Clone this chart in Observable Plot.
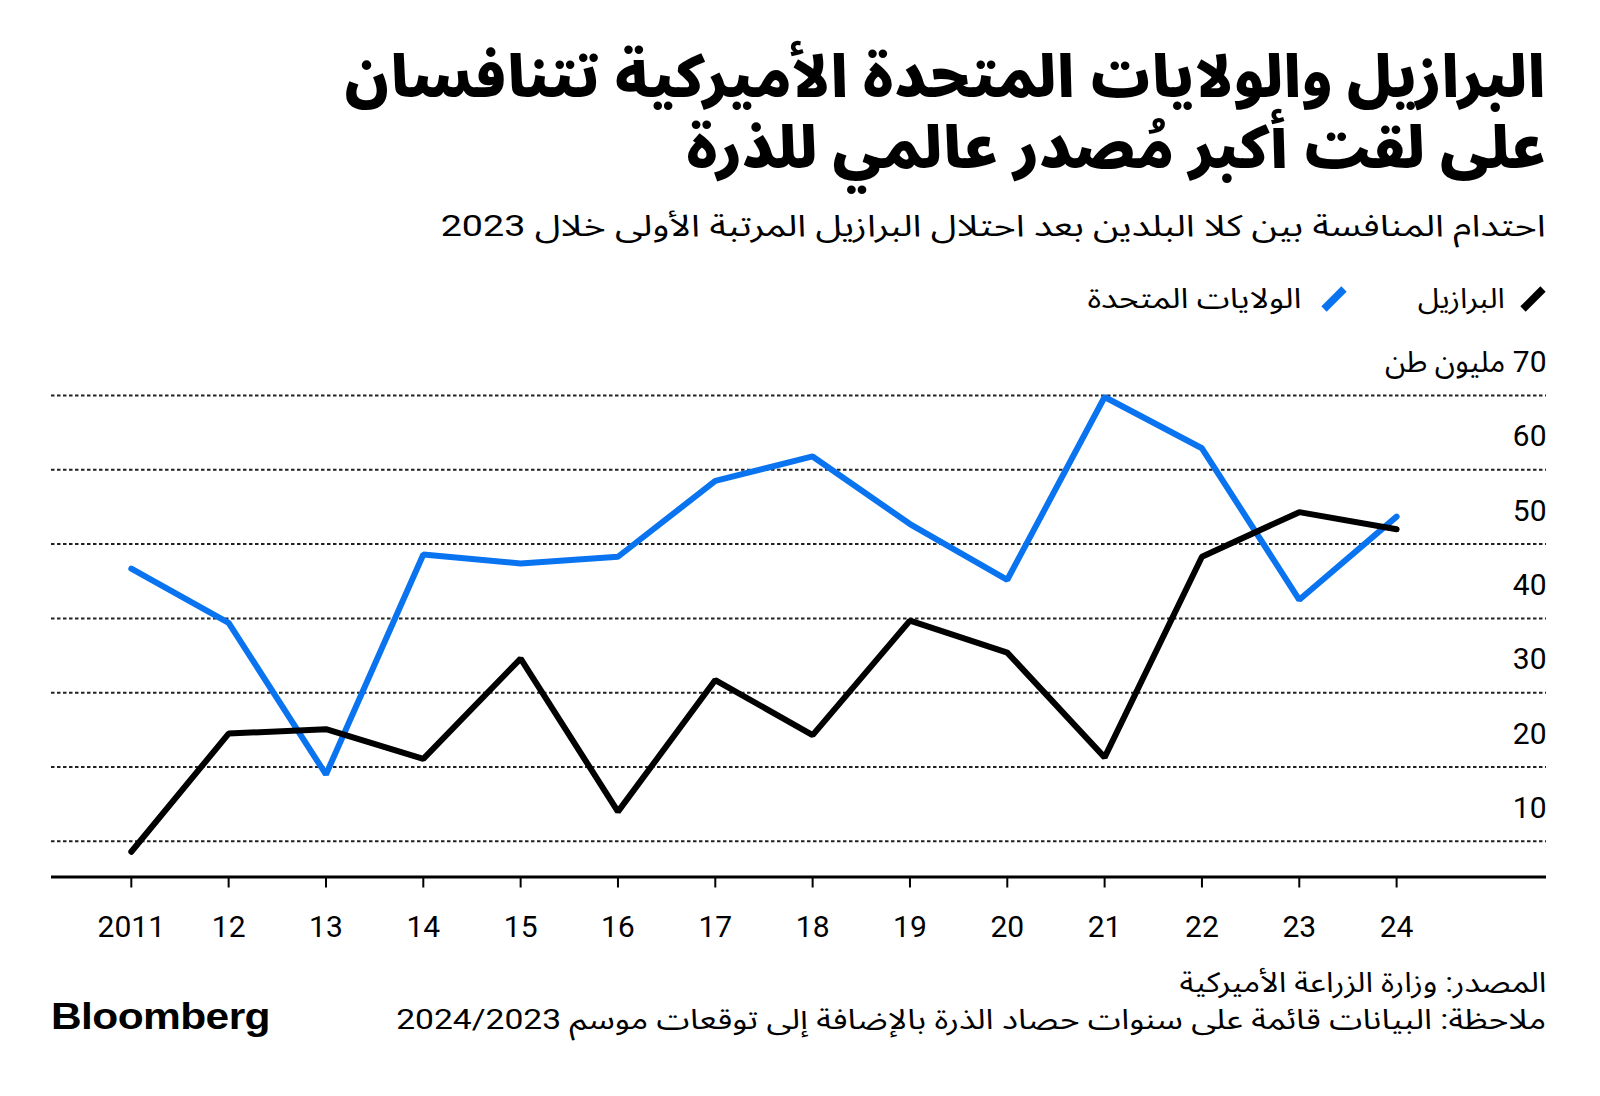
<!DOCTYPE html>
<html><head><meta charset="utf-8">
<script src="https://cdn.jsdelivr.net/npm/d3@7"></script>
<script src="https://cdn.jsdelivr.net/npm/@observablehq/plot@0.6"></script>
<style>
html,body{margin:0;padding:0;background:#fff;}
body{width:1600px;height:1096px;position:relative;overflow:hidden;font-family:Roboto,"Noto Sans Arabic","Noto Kufi Arabic","DejaVu Sans",sans-serif;color:#000;}
.t{position:absolute;white-space:nowrap;direction:rtl;transform-origin:right center;display:flex;align-items:center;line-height:1;}
.sw{position:absolute;width:28px;height:28px;}
#chart{position:absolute;left:0;top:330px;}
#logo{position:absolute;left:51px;white-space:nowrap;font-family:"Liberation Sans",Arial,sans-serif;font-weight:700;transform-origin:left center;display:flex;align-items:center;letter-spacing:-0.5px;line-height:1;}
</style></head><body>
<div id="t1" class="t" style="right:54px;top:47px;height:60px;font-size:58px;font-weight:900" data-w="1201"></div>
<div id="t2" class="t" style="right:54px;top:118px;height:60px;font-size:58px;font-weight:900" data-w="860"></div>
<div id="sub" class="t" style="right:54px;top:209px;height:34px;font-size:30px" data-w="1105"></div>
<svg class="sw" style="left:1519px;top:285px" viewBox="0 0 28 28"><line x1="4" y1="24" x2="24" y2="4" stroke="#000" stroke-width="7.5"/></svg>
<div id="l1" class="t" style="right:95px;top:284px;height:30px;font-size:28px" data-w="87"></div>
<svg class="sw" style="left:1320px;top:285px" viewBox="0 0 28 28"><line x1="4" y1="24" x2="24" y2="4" stroke="#0a74f0" stroke-width="7.5"/></svg>
<div id="l2" class="t" style="right:299px;top:284px;height:30px;font-size:28px" data-w="214"></div>
<div id="chart"></div>
<div id="src" class="t" style="right:54px;top:968px;height:30px;font-size:28px" data-w="367"></div>
<div id="note" class="t" style="right:54px;top:1005px;height:30px;font-size:28px" data-w="1150"></div>
<div id="logo" style="top:999px;height:36px;font-size:36px" data-w="219">Bloomberg</div>
<script>
// ---- data ----
const years = [2011, 2012, 2013, 2014, 2015, 2016, 2017, 2018, 2019, 2020, 2021, 2022, 2023, 2024];
const brazil = [8.6, 24.5, 25.1, 21.1, 34.6, 14.0, 31.7, 24.3, 39.7, 35.4, 21.3, 48.3, 54.3, 52.0];
const us = [46.7, 39.4, 19.0, 48.6, 47.4, 48.3, 58.5, 61.8, 52.7, 45.2, 69.8, 62.9, 42.5, 53.7];
const seriesNames = ["الولايات المتحدة", "البرازيل"];
const seriesColors = ["#0a74f0", "#000000"];
const yTicks = [10, 20, 30, 40, 50, 60, 70];
const unitLabel = "مليون طن";
const xTickLabels = ["2011", "12", "13", "14", "15", "16", "17", "18", "19", "20", "21", "22", "23", "24"];

const titleLine1 = "البرازيل والولايات المتحدة الأميركية تتنافسان";
const titleLine2 = "على لقت أكبر مُصدر عالمي للذرة";
const subtitle = "احتدام المنافسة بين كلا البلدين بعد احتلال البرازيل المرتبة الأولى خلال 2023";
const source = "المصدر: وزارة الزراعة الأميركية";
const note = "ملاحظة: البيانات قائمة على سنوات حصاد الذرة بالإضافة إلى توقعات موسم 2024/2023";

document.getElementById("t1").textContent = titleLine1;
document.getElementById("t2").textContent = titleLine2;
document.getElementById("sub").textContent = subtitle;
document.getElementById("l1").textContent = seriesNames[1];
document.getElementById("l2").textContent = seriesNames[0];
document.getElementById("src").textContent = source;
document.getElementById("note").textContent = note;

const rows = [];
years.forEach((yr, i) => rows.push({year: yr, value: us[i], series: seriesNames[0]}));
years.forEach((yr, i) => rows.push({year: yr, value: brazil[i], series: seriesNames[1]}));

const yMin = 5.2;
const chart = Plot.plot({
  width: 1600, height: 630,
  marginTop: 65, marginBottom: 83.5, marginLeft: 51, marginRight: 54,
  x: {domain: [2010.18, 2025.54]},
  y: {domain: [yMin, 70]},
  color: {domain: seriesNames, range: seriesColors},
  style: {fontFamily: "Roboto, 'Noto Sans Arabic', 'DejaVu Sans', sans-serif", fontSize: "30px", color: "#000", background: "transparent", overflow: "visible"},
  marks: [
    Plot.gridY(yTicks, {stroke: "#222", strokeOpacity: 1, strokeWidth: 2, strokeDasharray: "3.5,2.5"}),
    Plot.axisY(yTicks, {anchor: "right", tickSize: 0, tickPadding: 0, textAnchor: "end", dy: -33, label: null,
      tickFormat: d => d === 70 ? "\u202B" + d + " " + unitLabel + "\u202C" : String(d)}),
    Plot.axisX(years, {tickSize: 11, tickPadding: 27.5, strokeWidth: 2, label: null,
      tickFormat: d => xTickLabels[years.indexOf(d)]}),
    Plot.ruleY([yMin], {stroke: "#000", strokeWidth: 3}),
    Plot.line(rows, {x: "year", y: "value", z: "series", stroke: "series", strokeWidth: 6,
      strokeLinecap: "round", strokeLinejoin: "miter"})
  ]
});
document.getElementById("chart").appendChild(chart);

// fit text widths to reference layout (horizontal scale only)
function fit(el) {
  const target = +el.dataset.w;
  const w = el.getBoundingClientRect().width;
  el.style.transform = `scaleX(${target / w})`;
}
document.querySelectorAll("[data-w]").forEach(fit);
</script>
</body></html>
